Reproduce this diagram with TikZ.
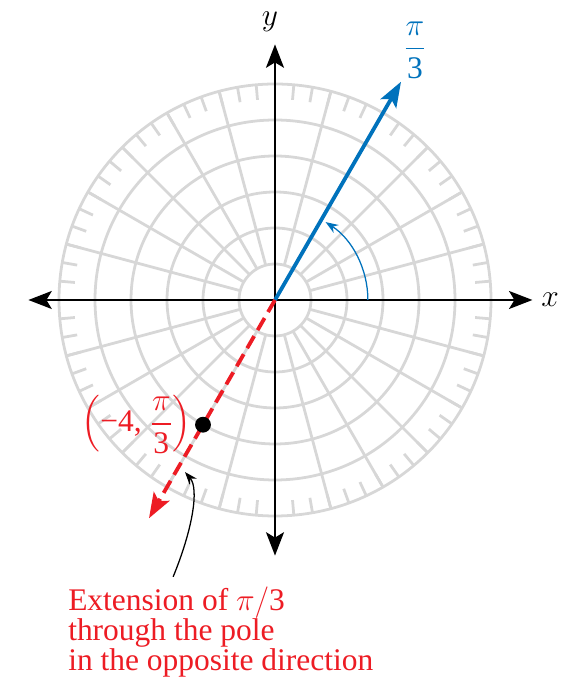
\documentclass[tikz,border=0pt]{standalone}
\usepackage{amsmath}
\usepackage{fontspec}
\setmainfont{Liberation Serif}
\definecolor{polarBlue}{RGB}{0, 114, 188}
\definecolor{polarRed}{RGB}{237, 28, 36}
\definecolor{gridGray}{RGB}{215, 215, 215}
\usetikzlibrary{positioning, arrows.meta}

\begin{document}
\begin{tikzpicture}[
    x=1cm, y=1cm,
    grid/.style={draw=gridGray, line width=2.2pt},
    axis/.style={line width=1.6pt,
                 {Stealth[length=6.5mm, width=5mm, inset=1.5mm]}-{Stealth[length=6.5mm, width=5mm, inset=1.5mm]}},
    ray/.style={line width=3pt, -{Stealth[length=7mm, width=5mm, inset=1.5mm]}},
    lbl/.style={font=\fontsize{24.88}{23.7}\selectfont, inner sep=0pt},
    dot/.style={circle, fill=black, minimum size=0.44cm, inner sep=0pt},
  ]
    \useasboundingbox (-7.639,-10.639) rectangle (8.056,8.333);

    % Polar grid
    \foreach \r in {1,...,6}
        \draw[grid] (0,0) circle (\r);
    \foreach \a in {0,15,...,345}
        \draw[grid] (\a:1) -- (\a:6);
    \foreach \a in {0,5,...,355}
        \draw[grid] (\a:5.58) -- (\a:6);

    % Axes
    \coordinate (O) at (0,0);
    \coordinate (xL) at (-6.85,0);
    \coordinate (xR) at (7.15,0);
    \coordinate (yB) at (0,-7.1);
    \coordinate (yT) at (0,7.1);
    \draw[axis] (xL) -- (xR);
    \draw[axis] (yB) -- (yT);
    \node[lbl] (xlab) at (7.64,0) {$x$};
    \node[lbl] (ylab) at (-0.14,7.72) {$y$};

    % Angle pi/3 and its extension
    \coordinate (blueTip) at (60:7);
    \coordinate (redTip) at (240:7);
    \draw[ray, polarBlue] (O) -- (blueTip);
    \draw[ray, polarRed, dash pattern=on 11pt off 5.5pt] (O) -- (redTip);
    \draw[polarBlue, line width=1pt, -{Stealth[length=3.5mm, width=2.6mm]}]
        (2.58,0) arc (0:57:2.58);
    \node[lbl, polarBlue] (angLab) at (3.89,6.94) {$\dfrac{\pi}{\text{3}}$};

    % Point
    \node[dot] (P) at (240:4) {};
    \node[lbl, polarRed, left=0.1cm of P] (pLab)
         {$\left(\text{−4,}\;\dfrac{\pi}{\text{3}}\right)$};

    % Note
    \node[lbl, polarRed, align=left, anchor=north west] (note) at (-5.75,-7.95)
         {Extension of $\pi/$3\\through the pole\\in the opposite direction};
    \coordinate (noteStart) at (-2.83,-7.69);
    \coordinate (noteTip) at (-2.5,-4.78);
    \draw[line width=1pt, -{Stealth[length=3.5mm, width=2.6mm]}]
        (noteStart) .. controls (-2.3,-6.4) and (-2.1,-5.25) .. (noteTip);
  \end{tikzpicture}
\end{document}
